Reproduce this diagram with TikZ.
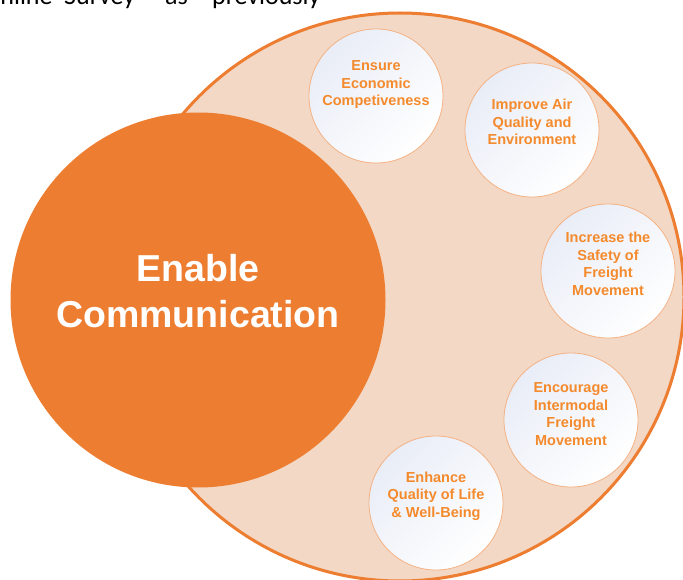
\documentclass[tikz,border=0pt]{standalone}
\usepackage{fontspec}
\setmainfont{Liberation Sans}
\newfontfamily\bodyfont{Carlito}
\definecolor{accent}{HTML}{ED7D31}
\definecolor{peach}{HTML}{F3D8C5}
\definecolor{rimorange}{HTML}{F4B183}
\definecolor{goalorange}{HTML}{F48A2C}
\definecolor{haze}{HTML}{E9EDF7}
\tikzset{
  goal/.style={circle, draw=rimorange, line width=0.8pt, top color=haze, bottom color=white,
    shading angle=45, minimum size=134pt, inner sep=0pt},
  goallabel/.style={align=center, text=goalorange, font=\bfseries\fontsize{14.5}{17.5}\selectfont},
  bodyword/.style={anchor=base west, inner sep=0pt, font=\bodyfont\fontsize{26}{30}\selectfont}
}
\begin{document}
\begin{tikzpicture}[x=1pt,y=-1pt]
        \useasboundingbox (0,0) rectangle (683,580);
        \clip (0,0) rectangle (683,580);
        % cut-off line of the page above
        \node[bodyword] (w1) at (-17,4.5) {Online};
        \node[bodyword] (w2) at (64,4.5) {Survey};
        \node[bodyword] (w3) at (165,4.5) {as};
        \node[bodyword] (w4) at (212,4.5) {previously};
        % big circles
        \node[circle, draw=accent, line width=3pt, fill=peach, minimum size=568pt, inner sep=0pt] (outer) at (400,297) {};
        \node[circle, fill=accent, minimum size=375pt, inner sep=0pt] (enable) at (198,300) {};
        \node[align=center, text=white, font=\bfseries\fontsize{37.5}{46}\selectfont] (enabletext) at ([yshift=9pt]enable.center) {Enable\\Communication};
        % goals
        \node[goal] (ensure) at (376,96) {};
        \node[goal] (air) at (532,130) {};
        \node[goal] (safety) at (608,271) {};
        \node[goal] (intermodal) at (571,420) {};
        \node[goal] (life) at (436,503) {};
        \node[goallabel] at ([yshift=11pt]ensure.center) {Ensure\\Economic\\Competiveness};
        \node[goallabel] at ([yshift=8pt]air.center) {Improve Air\\Quality and\\Environment};
        \node[goallabel] at ([yshift=7pt]safety.center) {Increase the\\Safety of\\Freight\\Movement};
        \node[goallabel] at ([yshift=6pt]intermodal.center) {Encourage\\Intermodal\\Freight\\Movement};
        \node[goallabel] at ([yshift=7pt]life.center) {Enhance\\Quality of Life\\\& Well-Being};
\end{tikzpicture}
\end{document}
